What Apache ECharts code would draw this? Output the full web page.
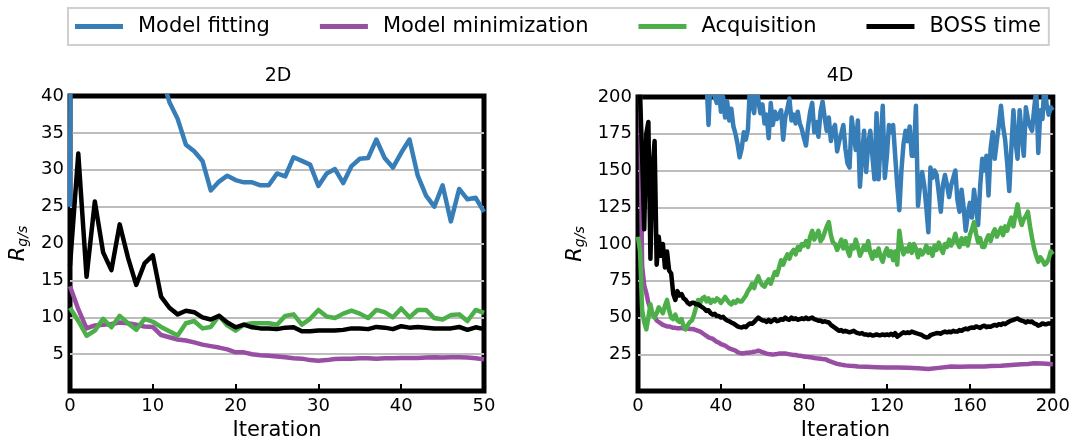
<!DOCTYPE html>
<html><head><meta charset="utf-8">
<script src="https://cdn.jsdelivr.net/npm/echarts@6/dist/echarts.min.js"></script>
<style>html,body{margin:0;padding:0;background:#fff}#c{width:1073px;height:446px}</style>
</head><body><div id="c"></div>
<script>
// ---------- DATA ----------
const seriesNames = ['Model fitting', 'Model minimization', 'Acquisition', 'BOSS time'];
const xTicks2D = [0, 10, 20, 30, 40, 50];
const yTicks2D = [5, 10, 15, 20, 25, 30, 35, 40];
const xTicks4D = [0, 40, 80, 120, 160, 200];
const yTicks4D = [25, 50, 75, 100, 125, 150, 175, 200];

// 2D: one value per iteration 0..50
const fit2D = [25, 300, 250, 200, 180, 160, 140, 120, 100, 80, 60, 43, 39.2, 36.9, 33.4, 32.5, 31.2, 27.2, 28.4, 29.2, 28.6, 28.3, 28.3, 27.9, 27.9, 29.5, 29.1, 31.7, 31.2, 30.7, 27.8, 29.5, 30.1, 28.2, 30.5, 31.5, 31.6, 34.1, 31.6, 30.3, 32.3, 34.1, 29.2, 26.5, 25.0, 27.9, 23.0, 27.4, 26.0, 26.2, 24.3];
const min2D = [14.2, 11.1, 8.5, 8.9, 9.0, 9.1, 9.3, 9.2, 9.0, 8.75, 8.7, 7.6, 7.3, 7.0, 6.85, 6.6, 6.3, 6.1, 5.9, 5.65, 5.25, 5.25, 5.0, 4.85, 4.8, 4.7, 4.6, 4.45, 4.4, 4.2, 4.1, 4.2, 4.35, 4.4, 4.4, 4.45, 4.45, 4.4, 4.45, 4.45, 4.5, 4.5, 4.5, 4.55, 4.6, 4.55, 4.6, 4.6, 4.55, 4.45, 4.3];
const acq2D = [11.3, 9.5, 7.5, 8.2, 9.8, 8.65, 10.2, 9.2, 8.3, 9.8, 9.4, 8.7, 8.1, 7.55, 9.2, 9.5, 8.5, 8.7, 10.2, 8.9, 8.2, 9.0, 9.2, 9.2, 9.2, 9.0, 10.2, 10.4, 9.0, 9.8, 11.0, 10.1, 9.9, 10.5, 10.9, 10.5, 9.9, 11.0, 10.7, 10.0, 11.2, 10.0, 11.0, 11.0, 9.9, 9.7, 10.3, 10.4, 9.5, 11.0, 10.6];
const boss2D = [17, 32.2, 15.5, 25.7, 18.8, 16.4, 22.6, 18.1, 14.4, 17.3, 18.4, 12.8, 11.3, 10.4, 10.9, 10.7, 10.0, 9.7, 10.2, 9.3, 8.65, 9.0, 8.65, 8.5, 8.5, 8.4, 8.6, 8.65, 8.1, 8.1, 8.2, 8.2, 8.2, 8.3, 8.5, 8.5, 8.4, 8.7, 8.6, 8.4, 8.8, 8.6, 8.7, 8.6, 8.5, 8.5, 8.5, 8.7, 8.3, 8.65, 8.4];

// 4D: [iteration, value]
const fit4D = [[0,450],[5,320],[10,300],[15,290],[20,270],[25,250],[30,230],[33,212],[34,181],[35,215],[36,205],[37,200],[38,196],[39,205],[40,190],[41,200],[42,186],[43,197],[44,184],[45,192],[46,180],[47,175],[48,168],[49,159],[50,165],[51,176],[52,171],[53,178],[54,208],[55,195],[56,189],[57,210],[58,198],[59,189],[60,195],[61,182],[62,188],[63,172],[64,196],[65,181],[66,190],[67,185],[68,188],[69,191],[70,171],[71,186],[72,192],[73,199],[74,184],[75,188],[76,182],[77,190],[78,182],[79,178],[80,172],[81,167],[82,180],[83,190],[84,196],[85,176],[86,183],[87,173],[88,190],[89,197],[90,186],[91,177],[92,186],[93,170],[94,178],[95,181],[96,163],[97,170],[98,175],[99,181],[100,165],[101,155],[102,152],[103,186],[104,175],[105,164],[106,184],[107,139],[108,160],[109,177],[110,149],[111,168],[112,177],[113,160],[114,144],[115,189],[116,144],[117,170],[118,194],[119,145],[120,160],[121,181],[122,176],[123,181],[124,160],[125,140],[126,123],[127,150],[128,168],[129,177],[130,170],[131,180],[132,160],[133,160],[134,194],[135,126],[136,140],[137,149],[138,140],[139,125],[140,108],[141,152],[142,145],[143,150],[144,147],[145,135],[146,122],[147,140],[148,147],[149,140],[150,132],[151,140],[152,145],[153,150],[154,130],[155,122],[156,137],[157,125],[158,109],[159,120],[160,128],[161,118],[162,137],[163,125],[164,113],[165,140],[166,158],[167,150],[168,160],[169,133],[170,165],[171,176],[172,158],[173,170],[174,181],[175,194],[176,180],[177,171],[178,155],[179,136],[180,165],[181,191],[182,170],[183,158],[184,191],[185,175],[186,160],[187,193],[188,185],[189,180],[190,177],[191,192],[192,205],[193,162],[194,191],[195,185],[196,210],[197,195],[198,188],[199,193],[200,191]];
const min4D = [[0,300],[1,200],[2,85],[3,72],[4,66.7],[5,60],[6,56],[7,53],[8,50.5],[9,48],[10,47],[11,46],[12,45],[13,44.5],[14,44],[15,44],[16,43.5],[17,43],[18,43],[19,42.7],[20,42.7],[21,43],[22,42.5],[23,42.5],[24,42.5],[25,42.2],[26,42.2],[27,42],[28,41.5],[29,41],[30,40.5],[31,39.5],[32,38.5],[33,37.5],[34,36.5],[35,36],[36,35.6],[37,34.5],[38,33.5],[39,33],[40,32],[41,31.5],[42,31],[43,30],[44,29],[45,28.5],[46,28],[47,27.5],[48,26.5],[49,26],[50,25.6],[51,25.8],[52,26],[53,26],[54,26.3],[55,26.5],[56,26.8],[57,27],[58,27.5],[59,27],[60,26.5],[61,26],[62,25.5],[63,25.2],[64,25],[65,24.8],[66,25],[67,25.2],[68,25.5],[69,25.5],[70,25.6],[71,25.6],[72,25.3],[73,25],[74,24.8],[75,24.5],[76,24.5],[77,24.2],[78,24],[79,23.8],[80,23.5],[81,23.3],[82,23.2],[83,23],[84,22.8],[85,22.5],[86,22.3],[87,22.2],[88,22],[89,21.8],[90,21.7],[91,21.3],[92,20.5],[93,20],[94,19.5],[95,19],[96,18.5],[97,18.3],[98,18],[99,17.8],[100,17.5],[102,17.2],[104,17],[106,16.7],[110,16.5],[115,16.2],[119,16],[125,16],[130,15.8],[135,15.5],[140,15.1],[145,15.8],[151,16.7],[155,16.5],[160,16.7],[167,16.7],[170,17],[175,17.3],[180,17.8],[185,18.3],[188,18.5],[191,18.9],[195,18.7],[200,18.3]];
const acq4D = [[0,105],[1,95],[2,55],[3,47],[4,42],[5,50],[6,59],[7,52],[8,50],[9,53],[10,57],[11,55],[12,53],[13,58],[14,62],[15,55],[16,50],[17,49],[18,52],[19,48],[20,47],[21,49],[22,44],[23,42],[24,45],[25,47],[26,48],[27,52],[28,57],[29,62],[30,60],[31,63],[32,64],[33,61],[34,63],[35,60],[36,62],[37,61],[38,63],[39,62],[40,60],[41,62],[42,64],[43,62],[44,60],[45,59],[46,61],[47,60],[48,62],[49,61],[50,61],[51,63],[52,65],[53,68],[54,70],[55,73],[56,70],[57,75],[58,78],[59,74],[60,72],[61,71],[62,74],[63,76],[64,73],[65,77],[66,81],[67,79],[68,84],[69,89],[70,86],[71,90],[72,93],[73,90],[74,94],[75,96],[76,93],[77,98],[78,96],[79,100],[80,99],[81,102],[82,98],[83,105],[84,109],[85,103],[86,106],[87,109],[88,102],[89,104],[90,108],[91,112],[92,115],[93,106],[94,101],[95,100],[96,96],[97,99],[98,103],[99,97],[100,102],[101,96],[102,92],[103,99],[104,97],[105,103],[106,98],[107,92],[108,95],[109,99],[110,96],[111,102],[112,94],[113,90],[114,95],[115,92],[116,97],[117,91],[118,88],[119,94],[120,97],[121,92],[122,95],[123,89],[124,95],[125,86],[126,109],[127,99],[128,93],[129,97],[130,95],[131,100],[132,94],[133,100],[134,97],[135,91],[136,96],[137,93],[138,95],[139,99],[140,94],[141,97],[142,92],[143,99],[144,96],[145,101],[146,97],[147,94],[148,100],[149,98],[150,103],[151,99],[152,102],[153,107],[154,101],[155,98],[156,104],[157,100],[158,104],[159,99],[160,106],[161,110],[162,115],[163,107],[164,101],[165,104],[166,98],[167,98],[168,103],[169,106],[170,102],[171,107],[172,110],[173,105],[174,108],[175,111],[176,106],[177,112],[178,109],[179,114],[180,118],[181,112],[182,120],[183,127],[184,118],[185,113],[186,117],[187,119],[188,122],[189,112],[190,104],[191,97],[192,92],[193,88],[194,91],[195,89],[196,86],[197,87],[198,90],[199,95],[200,93]];
const boss4D = [[0,210],[1,200],[2,160],[3,110],[4,175],[5,183],[6,90],[7,150],[8,170],[9,86],[10,105],[11,92],[12,100],[13,84],[14,95],[15,82],[16,80],[17,66],[18,62],[19,68],[20,65],[21,66],[22,63],[23,62],[24,60],[25,59],[26,60],[27,60],[28,59],[29,59],[30,58],[31,57],[32,56],[33,54.5],[34,55],[35,53],[36,52],[37,52.5],[38,51],[39,51],[40,50],[41,50.5],[42,49],[43,48],[44,47.5],[45,46.7],[46,46],[47,45],[48,44],[49,43.5],[50,43.3],[51,44],[52,43.5],[53,45],[54,46],[55,45.8],[56,47],[57,48.5],[58,50],[59,49],[60,48],[61,48],[62,47],[63,48.5],[64,47],[65,48],[66,49],[67,47.5],[68,48],[69,49],[70,48.5],[71,50],[72,49],[73,48.5],[74,50],[75,49],[76,49.5],[77,48.5],[78,49],[79,49.5],[80,49],[81,50],[82,49],[83,49.5],[84,50],[85,49],[86,48.5],[87,47.8],[88,48],[89,47],[90,47.5],[91,47],[92,46.7],[93,45],[94,44],[95,43],[96,42],[97,41],[98,41.5],[99,40.5],[100,41],[101,40.5],[102,40],[103,40.5],[104,41],[105,40],[106,39.5],[107,39],[108,39.5],[109,38.5],[110,38.5],[111,38],[112,38.5],[113,37.8],[114,38],[115,38.5],[116,38],[117,38],[118,38.5],[119,38],[120,38.5],[121,38],[122,39],[123,38],[124,39.5],[125,37],[126,38],[127,39],[128,40],[129,39.5],[130,40],[131,39.5],[132,40.5],[133,40],[134,39.5],[135,39],[136,38.5],[137,38],[138,37],[139,36.5],[140,36.7],[141,38],[142,38.5],[143,39],[144,39.5],[145,39.4],[146,39],[147,40],[148,40.5],[149,40],[150,40.5],[151,40],[152,41],[153,40.5],[154,40.5],[155,41.5],[156,41],[157,42],[158,42.5],[159,42],[160,43],[161,43.3],[162,43],[163,44],[164,43.5],[165,43],[166,44],[167,44.5],[168,43.5],[169,44],[170,43.8],[171,44.5],[172,45],[173,44.5],[174,45.5],[175,45],[176,46],[177,45.5],[178,46.5],[179,47.3],[180,48],[181,48.5],[182,49],[183,49.4],[184,48.5],[185,48],[186,47.5],[187,46.7],[188,47.5],[189,47],[190,47.3],[191,46],[192,45.5],[193,44.5],[194,45],[195,46],[196,45.5],[197,45.5],[198,46],[199,46],[200,45.5]];

// ---------- CHART ----------
const FONT = 'DejaVu Sans';
const colors = ['#377eb8', '#984ea3', '#4daf4a', '#000000'];
const idx = (arr) => arr.map((v, i) => [i, v]);

function xAxisCfg(gi, max, interval) {
  return {
    type: 'value', gridIndex: gi, min: 0, max: max, interval: interval,
    name: 'Iteration', nameLocation: 'middle', nameGap: 27,
    nameTextStyle: { fontFamily: FONT, fontSize: 21, color: '#000' },
    axisLine: { show: false },
    axisTick: { show: true, inside: true, length: 7, lineStyle: { color: '#000', width: 2 } },
    axisLabel: { fontFamily: FONT, fontSize: 18, color: '#000', margin: 6 },
    splitLine: { show: false }
  };
}
function yAxisCfg(gi, max, interval, gap) {
  return {
    type: 'value', gridIndex: gi, min: 0, max: max, interval: interval,
    name: '{r|R}{s|g/s}', nameLocation: 'middle', nameRotate: 90, nameGap: gap,
    nameTextStyle: {
      fontFamily: FONT, color: '#000',
      rich: {
        r: { fontFamily: FONT, fontStyle: 'italic', fontSize: 21, color: '#000' },
        s: { fontFamily: FONT, fontStyle: 'italic', fontSize: 14, color: '#000', padding: [9, 0, 0, 0] }
      }
    },
    axisLine: { show: false },
    axisTick: { show: false },
    axisLabel: { fontFamily: FONT, fontSize: 18, color: '#000', margin: 6,
      formatter: (v) => (v === 0 ? '' : String(v)) },
    splitLine: { show: true, showMinLine: false, showMaxLine: false, lineStyle: { color: '#bdbdbd', width: 2 } }
  };
}
function mk(name, data, k, gi) {
  return {
    name: name, type: 'line', xAxisIndex: gi, yAxisIndex: gi, data: data,
    showSymbol: false, symbol: 'none', clip: true, animation: false,
    lineStyle: { color: colors[k], width: 4.5, join: 'round' },
    itemStyle: { color: colors[k] }, z: 2 + k
  };
}

const chart = echarts.init(document.getElementById('c'), null, { renderer: 'canvas' });
chart.setOption({
  animation: false,
  legend: {
    data: seriesNames, left: 68, top: 8, orient: 'horizontal',
    icon: 'rect', itemWidth: 48, itemHeight: 5, itemGap: 50,
    padding: [8, 8, 8, 7], borderColor: '#cfcfcf', borderWidth: 2, borderRadius: 0,
    textStyle: { fontFamily: FONT, fontSize: 21, color: '#000', padding: [0, 0, 0, 10] },
    selectedMode: false
  },
  graphic: [
    { type: 'text', x: 278, y: 76, style: { text: '2D', fontFamily: FONT, fontSize: 19, fill: '#000', align: 'center', verticalAlign: 'middle' } },
    { type: 'text', x: 840, y: 76, style: { text: '4D', fontFamily: FONT, fontSize: 19, fill: '#000', align: 'center', verticalAlign: 'middle' } }
  ],
  grid: [
    { left: 70, top: 96, width: 414, height: 301, show: true, borderColor: '#000', borderWidth: 5, backgroundColor: 'transparent' },
    { left: 638, top: 97, width: 416, height: 300, show: true, borderColor: '#000', borderWidth: 5, backgroundColor: 'transparent' }
  ],
  xAxis: [xAxisCfg(0, 50, 10), xAxisCfg(1, 200, 40)],
  yAxis: [yAxisCfg(0, 40, 5, 40), yAxisCfg(1, 200, 25, 51)],
  series: [
    mk(seriesNames[0], idx(fit2D), 0, 0),
    mk(seriesNames[1], idx(min2D), 1, 0),
    mk(seriesNames[2], idx(acq2D), 2, 0),
    mk(seriesNames[3], idx(boss2D), 3, 0),
    mk(seriesNames[0], fit4D, 0, 1),
    mk(seriesNames[1], min4D, 1, 1),
    mk(seriesNames[2], acq4D, 2, 1),
    mk(seriesNames[3], boss4D, 3, 1)
  ]
});
</script></body></html>
